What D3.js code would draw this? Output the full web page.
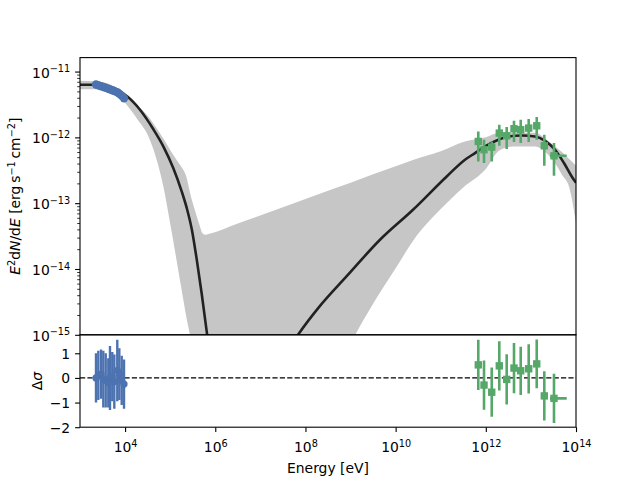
<!DOCTYPE html>
<html lang="en">
<head>
<meta charset="UTF-8">
<title>SED fit with residuals</title>
<script src="https://d3js.org/d3.v7.min.js"></script>
<style>
  body { margin: 0; background: #fff; }
  svg { font-family: "DejaVu Sans", sans-serif; }
</style>
</head>
<body>
<svg width="640" height="480"></svg>
<script>
// all energies / fluxes as log10 values: E in eV, E^2 dN/dE in erg s^-1 cm^-2
const xrayLogE  = [3.355, 3.406, 3.466, 3.517, 3.570, 3.628, 3.665, 3.716, 3.761, 3.827, 3.872, 3.925, 3.976];
const xrayLogF  = [-11.196, -11.208, -11.222, -11.234, -11.246, -11.261, -11.271, -11.283, -11.295, -11.315, -11.337, -11.368, -11.406];
const xrayResid = [0.0, 0.1, 0.15, -0.05, -0.1, -0.2, 0.0, 0.05, -0.15, 0.3, 0.15, -0.1, -0.25];
const xrayResidErr = [1.0, 1.0, 1.0, 1.15, 1.1, 1.0, 1.3, 1.0, 1.1, 1.25, 1.05, 1.0, 1.0];

const tevLogE   = [11.833, 11.960, 12.131, 12.299, 12.463, 12.625, 12.774, 12.951, 13.129, 13.297, 13.512];
const tevLogEHi = [11.833, 11.960, 12.131, 12.299, 12.463, 12.625, 12.774, 12.951, 13.129, 13.297, 13.794];
const tevLogF   = [-12.062, -12.188, -12.147, -11.935, -11.976, -11.869, -11.884, -11.859, -11.824, -12.128, -12.280];
const tevLogFHi = [-11.910, -12.036, -12.062, -11.809, -11.843, -11.748, -11.733, -11.722, -11.691, -11.960, -12.087];
const tevLogFLo = [-12.366, -12.391, -12.366, -12.128, -12.178, -12.071, -12.087, -12.071, -12.036, -12.432, -12.584];
const tevResid  = [0.53, -0.29, -0.58, 0.49, -0.06, 0.40, 0.29, 0.37, 0.57, -0.73, -0.83];
const tevResidErr = [1.02, 1.0, 1.0, 1.0, 1.02, 1.02, 0.98, 1.0, 0.99, 1.0, 1.0];

// best-fit model
const modelLogE = [3.0, 3.3, 3.6, 3.85, 4.05, 4.33, 4.63, 4.85, 5.07, 5.255, 5.37, 5.48, 5.59, 5.70, 5.82, 5.95,
                   7.5, 7.835, 8.3, 8.915, 9.653, 10.385, 11.133, 11.538, 11.76, 11.982, 12.277, 12.5, 12.796,
                   13.09, 13.313, 13.535, 13.756, 13.905, 14.0];
const modelLogF = [-11.20, -11.20, -11.23, -11.29, -11.38, -11.58, -11.88, -12.14, -12.47, -12.82, -13.08, -13.40, -13.86, -14.38, -15.0, -15.7,
                   -15.35, -15.0, -14.58, -14.11, -13.556, -13.10, -12.594, -12.34, -12.239, -12.138, -12.036, -11.986, -11.971,
                   -11.986, -12.052, -12.188, -12.416, -12.594, -12.69];

// uncertainty band
const bandLogE  = [3.0, 3.4, 3.8, 4.1, 4.3, 4.5, 4.7, 4.85, 5.0, 5.15, 5.25, 5.35, 5.45, 5.55, 5.65, 5.72, 5.78, 5.85,
                   6.5, 7.5, 8.5, 9.0, 9.5, 10.0, 10.4, 11.0, 11.5, 12.0, 12.3, 12.6, 13.1, 13.3, 13.5, 13.7, 13.85, 14.0];
const bandUpper = [-11.14, -11.15, -11.24, -11.40, -11.53, -11.67, -11.86, -12.02, -12.19, -12.35, -12.45, -12.58, -12.87, -13.11, -13.33, -13.46, -13.48, -13.47,
                   -13.31, -13.06, -12.81, -12.69, -12.56, -12.44, -12.34, -12.21, -12.07, -12.00, -11.93, -11.93, -11.93, -12.01, -12.12, -12.23, -12.33, -12.43];
const bandLower = [-11.27, -11.27, -11.35, -11.56, -11.75, -11.96, -12.34, -12.75, -13.31, -13.90, -14.30, -14.70, -15.05, -15.50, -16, -16, -16, -16,
                   -16, -16, -16, -15.15, -14.53, -13.99, -13.56, -13.09, -12.76, -12.48, -12.20, -12.14, -12.14, -12.21, -12.36, -12.58, -12.76, -13.30];

const yTickExps = [-15, -14, -13, -12, -11];
const xTickExps = [4, 6, 8, 10, 12, 14];
const residTicks = [-2, -1, 0, 1];

const blue = "#4c72b0", green = "#55a868";
const axL = 80, axR = 576, axT = 57.6, axM = 334.8, axB = 427.2;
const fs = 13.9, fsSup = 9.7;

const svg = d3.select("svg");
const p = v => Math.pow(10, v);

const x = d3.scaleLog().domain([1e3, 1e14]).range([axL, axR]);
const y = d3.scaleLog().domain([1e-15, 1.63e-11]).range([axM, axT]);
const yr = d3.scaleLinear().domain([-2, 1.75]).range([axB, axM]);

const defs = svg.append("defs");
defs.append("clipPath").attr("id", "clipTop").append("rect")
    .attr("x", axL).attr("y", axT).attr("width", axR - axL).attr("height", axM - axT);
defs.append("clipPath").attr("id", "clipBot").append("rect")
    .attr("x", axL).attr("y", axM).attr("width", axR - axL).attr("height", axB - axM);

// ---- top panel ----
const gTop = svg.append("g").attr("clip-path", "url(#clipTop)");

const band = bandLogE.map((e, i) => ({e: e, lo: bandLower[i], hi: bandUpper[i]}));
gTop.append("path")
    .datum(band)
    .attr("fill", "#c6c6c6")
    .attr("d", d3.area().curve(d3.curveMonotoneX)
        .x(d => x(p(d.e))).y0(d => y(p(d.lo))).y1(d => y(p(d.hi))));

const model = modelLogE.map((e, i) => ({e: e, f: modelLogF[i]}));
gTop.append("path")
    .datum(model)
    .attr("fill", "none")
    .attr("stroke", "#222")
    .attr("stroke-width", 2.6)
    .attr("d", d3.line().curve(d3.curveMonotoneX).x(d => x(p(d.e))).y(d => y(p(d.f))));

gTop.selectAll(".xr").data(xrayLogE).enter().append("circle")
    .attr("cx", d => x(p(d)))
    .attr("cy", (d, i) => y(p(xrayLogF[i])))
    .attr("r", 4.2)
    .attr("fill", blue);

const tev = tevLogE.map((e, i) => ({e: e, eh: tevLogEHi[i], f: tevLogF[i], fl: tevLogFLo[i], fh: tevLogFHi[i],
                                    r: tevResid[i], re: tevResidErr[i]}));
gTop.selectAll(".tevErr").data(tev).enter().append("line")
    .attr("x1", d => x(p(d.e))).attr("x2", d => x(p(d.e)))
    .attr("y1", d => y(p(d.fl))).attr("y2", d => y(p(d.fh)))
    .attr("stroke", green).attr("stroke-width", 2.6);
gTop.selectAll(".tevXErr").data(tev.filter(d => d.eh > d.e)).enter().append("line")
    .attr("x1", d => x(p(d.e)) - 4).attr("x2", d => x(p(d.eh)))
    .attr("y1", d => y(p(d.f))).attr("y2", d => y(p(d.f)))
    .attr("stroke", green).attr("stroke-width", 2.6);
gTop.selectAll(".tevPt").data(tev).enter().append("rect")
    .attr("x", d => x(p(d.e)) - 3.7).attr("y", d => y(p(d.f)) - 3.7)
    .attr("width", 7.4).attr("height", 7.4)
    .attr("fill", green);

// ---- bottom panel ----
const gBot = svg.append("g").attr("clip-path", "url(#clipBot)");

gBot.append("line")
    .attr("x1", axL).attr("x2", axR)
    .attr("y1", yr(0)).attr("y2", yr(0))
    .attr("stroke", "#000").attr("stroke-width", 1.4)
    .attr("stroke-dasharray", "5.2,2.2");

const xr = xrayLogE.map((e, i) => ({e: e, r: xrayResid[i], re: xrayResidErr[i]}));
gBot.selectAll(".xrErr").data(xr).enter().append("line")
    .attr("x1", d => x(p(d.e))).attr("x2", d => x(p(d.e)))
    .attr("y1", d => yr(d.r - d.re)).attr("y2", d => yr(d.r + d.re))
    .attr("stroke", blue).attr("stroke-width", 2.4);
gBot.selectAll(".xrPt").data(xr).enter().append("circle")
    .attr("cx", d => x(p(d.e))).attr("cy", d => yr(d.r))
    .attr("r", 3.6).attr("fill", blue);

gBot.selectAll(".tevRErr").data(tev).enter().append("line")
    .attr("x1", d => x(p(d.e))).attr("x2", d => x(p(d.e)))
    .attr("y1", d => yr(d.r - d.re)).attr("y2", d => yr(d.r + d.re))
    .attr("stroke", green).attr("stroke-width", 2.6);
gBot.selectAll(".tevRXErr").data(tev.filter(d => d.eh > d.e)).enter().append("line")
    .attr("x1", d => x(p(d.e)) - 4).attr("x2", d => x(p(d.eh)))
    .attr("y1", d => yr(d.r)).attr("y2", d => yr(d.r))
    .attr("stroke", green).attr("stroke-width", 2.6);
gBot.selectAll(".tevRPt").data(tev).enter().append("rect")
    .attr("x", d => x(p(d.e)) - 3.7).attr("y", d => yr(d.r) - 3.7)
    .attr("width", 7.4).attr("height", 7.4)
    .attr("fill", green);

// ---- axes ----
function powLabel(sel, exp) {
  sel.text(null);
  sel.append("tspan").text("10");
  sel.append("tspan").attr("font-size", fsSup).attr("dy", -5.5)
     .text(exp < 0 ? "\u2212" + (-exp) : String(exp));
}

const minorY = [];
for (let e = -15; e <= -11; e++) for (let m = 2; m <= 9; m++) {
  const v = m * Math.pow(10, e);
  if (v < 1.63e-11) minorY.push(v);
}

const yAxis = svg.append("g").attr("transform", `translate(${axL},0)`)
    .call(d3.axisLeft(y).tickValues(yTickExps.map(p)).tickSize(4.9).tickPadding(4.9));
const yMinor = svg.append("g").attr("transform", `translate(${axL},0)`)
    .call(d3.axisLeft(y).tickValues(minorY).tickSize(2.8).tickFormat(""));
yMinor.selectAll("line").attr("stroke-width", 0.8);
yAxis.selectAll(".tick text").each(function(d) { powLabel(d3.select(this), Math.round(Math.log10(d))); })
    .attr("dy", "5.6");

const rAxis = svg.append("g").attr("transform", `translate(${axL},0)`)
    .call(d3.axisLeft(yr).tickValues(residTicks).tickSize(4.9).tickPadding(4.9)
        .tickFormat(d => d < 0 ? "\u2212" + (-d) : String(d)));
rAxis.selectAll(".tick text").attr("dy", "5");

const xAxis = svg.append("g").attr("transform", `translate(0,${axB})`)
    .call(d3.axisBottom(x).tickValues(xTickExps.map(p)).tickSize(4.9).tickPadding(4.9));
xAxis.selectAll(".tick text").each(function(d) { powLabel(d3.select(this), Math.round(Math.log10(d))); })
    .attr("y", 0).attr("dy", 0).attr("transform", "translate(0,25)");

[yAxis, yMinor, rAxis, xAxis].forEach(a => {
  a.select(".domain").remove();
  a.selectAll("text").attr("font-size", fs).attr("font-family", "DejaVu Sans").attr("fill", "#000");
  a.selectAll("line").attr("stroke", "#000");
});
[yAxis, rAxis, xAxis].forEach(a => a.selectAll(".tick line").attr("stroke-width", 1.1));

// frames
svg.append("rect").attr("x", axL).attr("y", axT).attr("width", axR - axL).attr("height", axM - axT)
    .attr("fill", "none").attr("stroke", "#000").attr("stroke-width", 1.1);
svg.append("rect").attr("x", axL).attr("y", axM).attr("width", axR - axL).attr("height", axB - axM)
    .attr("fill", "none").attr("stroke", "#000").attr("stroke-width", 1.1);

// axis titles
svg.append("text")
    .attr("x", (axL + axR) / 2).attr("y", 473)
    .attr("text-anchor", "middle").attr("font-size", fs)
    .text("Energy [eV]");

const yl = svg.append("text")
    .attr("transform", `translate(20,${(axT + axM) / 2}) rotate(-90)`)
    .attr("text-anchor", "middle").attr("font-size", fs);
yl.append("tspan").attr("font-style", "italic").text("E");
yl.append("tspan").attr("font-size", fsSup).attr("dy", -5.5).text("2");
yl.append("tspan").attr("dy", 5.5).text("d");
yl.append("tspan").attr("font-style", "italic").text("N");
yl.append("tspan").text("/d");
yl.append("tspan").attr("font-style", "italic").text("E");
yl.append("tspan").text(" [erg\u2009s");
yl.append("tspan").attr("font-size", fsSup).attr("dy", -5.5).text("\u22121");
yl.append("tspan").attr("dy", 5.5).text("\u2009cm");
yl.append("tspan").attr("font-size", fsSup).attr("dy", -5.5).text("\u22122");
yl.append("tspan").attr("dy", 5.5).text("]");

const rl = svg.append("text")
    .attr("transform", `translate(42,${(axM + axB) / 2}) rotate(-90)`)
    .attr("text-anchor", "middle").attr("font-size", fs);
rl.append("tspan").text("\u0394");
rl.append("tspan").attr("font-style", "italic").text("\u03c3");
</script>
</body>
</html>
